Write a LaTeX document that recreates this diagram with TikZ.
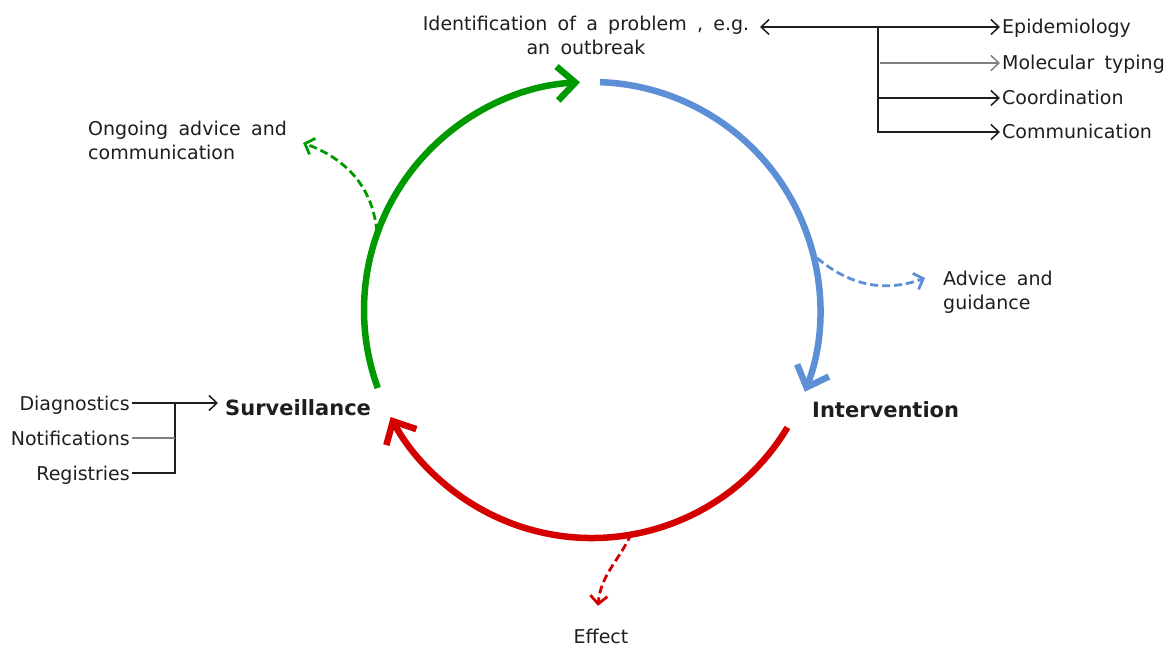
\documentclass[tikz,border=0pt]{standalone}
\usepackage{fontspec}
\setmainfont[WordSpace=1.7]{DejaVu Sans}
\usetikzlibrary{arrows.meta, calc}

\definecolor{cycgreen}{RGB}{0,153,0}
\definecolor{cycblue}{RGB}{92,143,214}
\definecolor{cycred}{RGB}{212,0,0}
\definecolor{txtgray}{RGB}{30,30,30}

\tikzset{
	lbl/.style={font=\fontsize{19}{24}\selectfont, text=txtgray, inner sep=2pt},
	tag/.style={lbl, text height=18pt, text depth=4pt},
	bold tag/.style={tag, font=\fontsize{21}{24}\selectfont\bfseries},
	cycle arc/.style={line width=6.5pt, -{Straight Barb[length=18pt,width=34pt]}},
	side arrow/.style={dash pattern=on 8pt off 4pt, line width=2.8pt, -{Straight Barb[length=8pt,width=17pt]}},
	thin line/.style={line width=1.5pt, draw=txtgray},
	thin arrow/.style={thin line, -{Straight Barb[length=8pt,width=15pt]}},
}

\begin{document}
\begin{tikzpicture}[x=1pt, y=1pt]
	\useasboundingbox (0,0) rectangle (1166,646);
	\coordinate (C) at (592,336);
	
	% the cycle
	\draw[cycle arc, cycgreen] ($(C)+(200:228)$) arc[start angle=200, end angle=93, radius=228];
	\draw[cycle arc, cycblue] ($(C)+(88:228)$) arc[start angle=88, end angle=-21, radius=228];
	\draw[cycle arc, cycred] ($(C)+(-31:228)$) arc[start angle=-31, end angle=-152, radius=228];
	
	% labels
	\node[lbl, align=center] (ident) at (586,611) {Identification of a problem , e.g.\\an outbreak};
	\node[bold tag, anchor=west] (surv) at (223,238) {Surveillance};
	\node[bold tag, anchor=west] (interv) at (810,236) {Intervention};
	\node[lbl, align=left, anchor=west] (ong) at (86,506) {Ongoing advice and\\communication};
	\node[lbl, align=left, anchor=west] (adv) at (941,354) {Advice and\\guidance};
	\node[tag] (eff) at (601,10) {Effect};
	
	\node[tag, anchor=west] (epi) at (1000,619) {Epidemiology};
	\node[tag, anchor=west] (mol) at (1000,583) {Molecular typing};
	\node[tag, anchor=west] (coord) at (1000,548) {Coordination};
	\node[tag, anchor=west] (comm) at (1000,514) {Communication};
	
	\node[tag, anchor=east] (diag) at (132,243) {Diagnostics};
	\node[tag, anchor=east] (notif) at (132,208) {Notifications};
	\node[tag, anchor=east] (reg) at (132,173) {Registries};
	
	% side effects of each step
	\draw[side arrow, cycgreen] ($(C)+(160:229)$) to[out=95, in=-20] ($(ong.east)+(14,-3)$);
	\draw[side arrow, cycblue] ($(C)+(13:231)$) to[out=-40, in=200] ($(adv.west)+(-16,14)$);
	\draw[side arrow, cycred] ($(C)+(-80:227)$) to[out=-115, in=85] ($(eff.north)+(-3,17)$);
	
	% tasks around the problem
	\coordinate (idR) at (760,619);
	\coordinate (tfork) at (878,619);
	\draw[thin line, {Straight Barb[length=8pt,width=15pt]}-{Straight Barb[length=8pt,width=15pt]}] (idR) -- (epi.west);
	\draw[thin arrow] (tfork) |- (comm.west);
	\draw[thin arrow] (coord.west -| tfork) -- (coord.west);
	\draw[thin arrow, draw=gray] ($(mol.west -| tfork)+(2,0)$) -- (mol.west);
	
	% sources of surveillance
	\coordinate (lfork) at (175,243);
	\draw[thin arrow] (diag.east) -- ($(diag.east -| surv.west)+(-5,0)$);
	\draw[thin line] (reg.east) -| (lfork);
	\draw[thin line, draw=gray] (notif.east) -- (notif.east -| lfork);
\end{tikzpicture}
\end{document}
